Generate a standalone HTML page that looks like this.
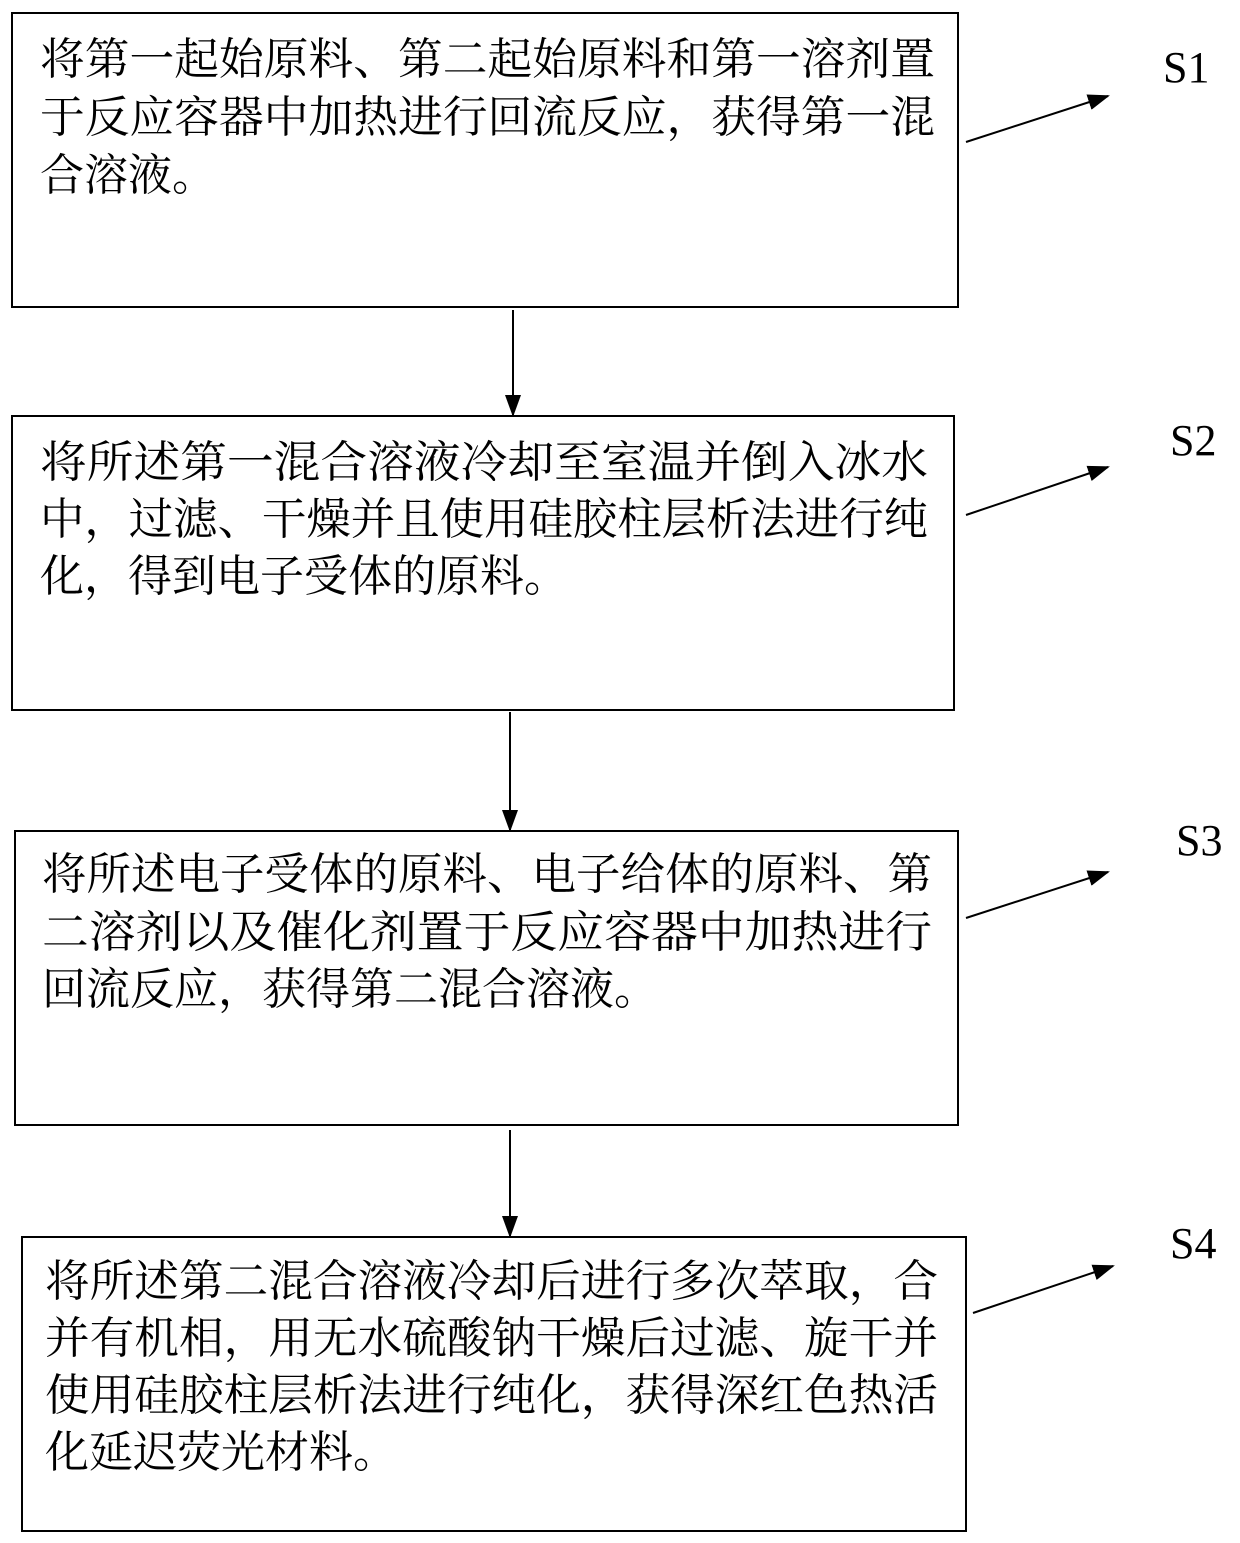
<!DOCTYPE html>
<html><head><meta charset="utf-8"><style>
html,body{margin:0;padding:0;background:#fff;}
svg{display:block;}
.t{font-family:"Liberation Serif","Noto Serif CJK SC",serif;font-size:44px;fill:#000;}
.s{font-family:"Liberation Serif",serif;font-size:44px;fill:#000;}
</style></head><body>
<svg width="1240" height="1543" viewBox="0 0 1240 1543" xmlns="http://www.w3.org/2000/svg">
<defs><marker id="a" markerWidth="10" markerHeight="10" refX="9" refY="5" orient="auto" markerUnits="userSpaceOnUse" viewBox="0 0 10 10"><path d="M0,0 L10,5 L0,10 z" fill="#000"/></marker>
<marker id="b" markerWidth="22" markerHeight="16" refX="20" refY="8" orient="auto" markerUnits="userSpaceOnUse"><path d="M0,0 L22,8 L0,16 z" fill="#000"/></marker></defs>
<g fill="none" stroke="#000" stroke-width="2">
<rect x="12" y="13" width="946" height="294"/>
<rect x="12" y="416" width="942" height="294"/>
<rect x="15" y="831" width="943" height="294"/>
<rect x="22" y="1237" width="944" height="294"/>
<line x1="513" y1="310" x2="513" y2="415" marker-end="url(#b)"/>
<line x1="510" y1="712" x2="510" y2="830" marker-end="url(#b)"/>
<line x1="510" y1="1130" x2="510" y2="1236" marker-end="url(#b)"/>
<line x1="966" y1="142" x2="1108" y2="96" marker-end="url(#b)"/>
<line x1="966" y1="515" x2="1108" y2="467" marker-end="url(#b)"/>
<line x1="966" y1="918" x2="1108" y2="872" marker-end="url(#b)"/>
<line x1="973" y1="1313" x2="1113" y2="1266" marker-end="url(#b)"/>
</g>
<text class="s" x="1163" y="82">S1</text>
<text class="s" x="1170" y="455">S2</text>
<text class="s" x="1176" y="855">S3</text>
<text class="s" x="1170" y="1258">S4</text>
<g class="t">
<text x="40" y="74" textLength="895" lengthAdjust="spacingAndGlyphs">将第一起始原料、第二起始原料和第一溶剂置</text>
<text x="40" y="132" textLength="895" lengthAdjust="spacingAndGlyphs">于反应容器中加热进行回流反应，获得第一混</text>
<text x="40" y="190">合溶液。</text>
<text x="40" y="477" textLength="888" lengthAdjust="spacingAndGlyphs">将所述第一混合溶液冷却至室温并倒入冰水</text>
<text x="40" y="534" textLength="888" lengthAdjust="spacingAndGlyphs">中，过滤、干燥并且使用硅胶柱层析法进行纯</text>
<text x="40" y="591">化，得到电子受体的原料。</text>
<text x="42" y="889" textLength="890" lengthAdjust="spacingAndGlyphs">将所述电子受体的原料、电子给体的原料、第</text>
<text x="42" y="947" textLength="890" lengthAdjust="spacingAndGlyphs">二溶剂以及催化剂置于反应容器中加热进行</text>
<text x="42" y="1004">回流反应，获得第二混合溶液。</text>
<text x="45" y="1296" textLength="893" lengthAdjust="spacingAndGlyphs">将所述第二混合溶液冷却后进行多次萃取，合</text>
<text x="45" y="1353" textLength="893" lengthAdjust="spacingAndGlyphs">并有机相，用无水硫酸钠干燥后过滤、旋干并</text>
<text x="45" y="1410" textLength="893" lengthAdjust="spacingAndGlyphs">使用硅胶柱层析法进行纯化，获得深红色热活</text>
<text x="45" y="1467">化延迟荧光材料。</text>
</g>
</svg>
</body></html>
